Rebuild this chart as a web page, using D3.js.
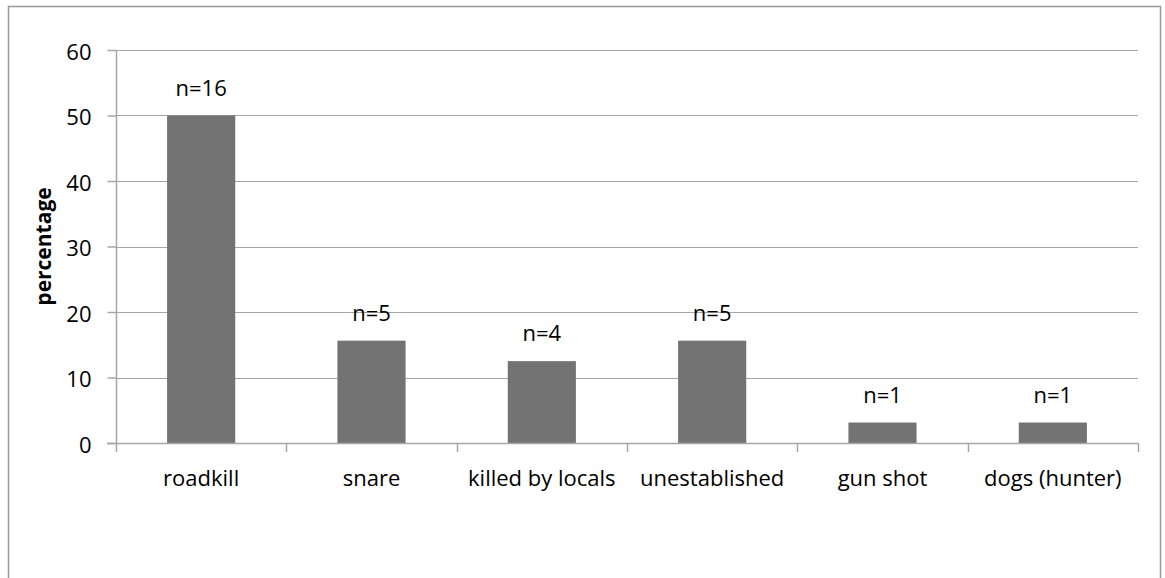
<!DOCTYPE html>
<html>
<head>
<meta charset="utf-8">
<script src="https://cdn.jsdelivr.net/npm/d3@7/dist/d3.min.js"></script>
<style>
  html, body { margin: 0; padding: 0; background: #fff; }
  svg { display: block; font-family: "Open Sans", "Noto Sans", sans-serif; }
</style>
</head>
<body>
<svg id="chart" width="1165" height="578"></svg>
<script>
// Causes of death (share of 32 recorded cases)
const categories = ["roadkill", "snare", "killed by locals", "unestablished", "gun shot", "dogs (hunter)"];
const counts = [16, 5, 4, 5, 1, 1];
const percentages = [50, 15.625, 12.5, 15.625, 3.125, 3.125];
const yTicks = [0, 10, 20, 30, 40, 50, 60];

const svg = d3.select("#chart");
const plot = { left: 116, right: 1138, top: 50, bottom: 443 };
const fontSize = 22;

// outer chart frame (bottom edge falls outside the view)
svg.append("rect")
  .attr("x", 8.5).attr("y", 6.5)
  .attr("width", 1152).attr("height", 600)
  .attr("fill", "none").attr("stroke", "#999").attr("stroke-width", 1.5);

const x = d3.scaleBand().domain(categories)
  .range([plot.left, plot.right]).paddingInner(0).paddingOuter(0);
const y = d3.scaleLinear().domain([0, 60]).range([plot.bottom, plot.top]);

// horizontal gridlines
svg.append("g").selectAll("line").data(yTicks.filter(d => d > 0)).join("line")
  .attr("x1", plot.left).attr("x2", plot.right)
  .attr("y1", d => Math.round(y(d)) + 0.5).attr("y2", d => Math.round(y(d)) + 0.5)
  .attr("stroke", "#a6a6a6").attr("stroke-width", 1.2);

// bars
const bw = x.bandwidth() / 2.5;
svg.selectAll("rect.bar").data(categories).join("rect")
  .attr("class", "bar")
  .attr("x", d => x(d) + (x.bandwidth() - bw) / 2)
  .attr("width", bw)
  .attr("y", (d, i) => y(percentages[i]))
  .attr("height", (d, i) => y(0) - y(percentages[i]))
  .attr("fill", "#737373");

// y axis
const yAxis = d3.axisLeft(y).tickValues(yTicks).tickSize(9).tickPadding(16).tickFormat(d3.format("d"));
const ya = svg.append("g").attr("transform", `translate(${plot.left + 0.5},0)`).call(yAxis);
ya.select(".domain").attr("stroke", "#a6a6a6").attr("stroke-width", 1.5).attr("d", `M0,${plot.top}V${plot.bottom}`);
ya.selectAll(".tick line").attr("stroke", "#a6a6a6").attr("stroke-width", 1.5);
ya.selectAll(".tick text").attr("font-size", fontSize).attr("fill", "#000")
  .attr("font-family", "'Open Sans', sans-serif").attr("dy", "0.42em");

// x axis with tick marks at category boundaries
const xa = svg.append("g");
xa.append("line").attr("x1", plot.left - 9).attr("x2", plot.right)
  .attr("y1", plot.bottom + 0.5).attr("y2", plot.bottom + 0.5)
  .attr("stroke", "#a6a6a6").attr("stroke-width", 1.5);
const bounds = categories.map(d => x(d)).concat([plot.right]);
xa.selectAll("line.t").data(bounds).join("line")
  .attr("class", "t")
  .attr("x1", d => Math.round(d) + 0.5).attr("x2", d => Math.round(d) + 0.5)
  .attr("y1", plot.bottom).attr("y2", plot.bottom + 9)
  .attr("stroke", "#a6a6a6").attr("stroke-width", 1.5);
xa.selectAll("text").data(categories).join("text")
  .attr("x", d => x(d) + x.bandwidth() / 2)
  .attr("y", 486)
  .attr("text-anchor", "middle")
  .attr("font-size", fontSize)
  .text(d => d);

// count labels above bars
svg.selectAll("text.n").data(categories).join("text")
  .attr("class", "n")
  .attr("x", d => x(d) + x.bandwidth() / 2)
  .attr("y", (d, i) => y(percentages[i]) - 20)
  .attr("text-anchor", "middle")
  .attr("font-size", fontSize)
  .text((d, i) => "n=" + counts[i]);

// y axis title
svg.append("text")
  .attr("transform", `translate(51,${(plot.top + plot.bottom) / 2}) rotate(-90)`)
  .attr("text-anchor", "middle")
  .attr("font-size", 21)
  .attr("font-weight", "bold")
  .text("percentage");
</script>
</body>
</html>
